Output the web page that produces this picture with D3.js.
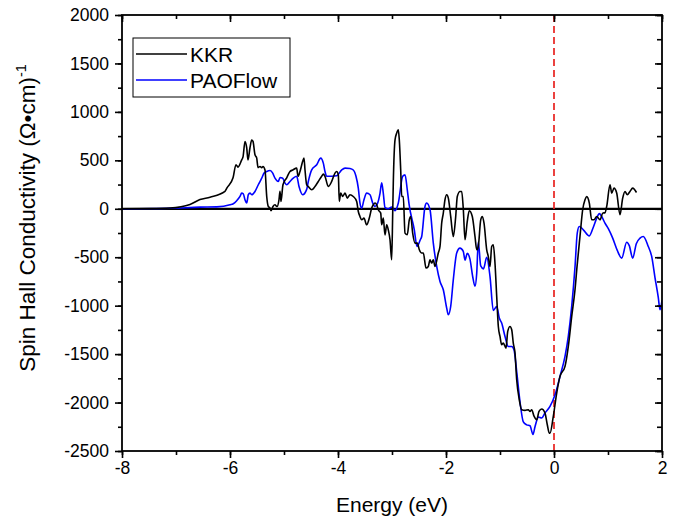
<!DOCTYPE html>
<html>
<head>
<meta charset="utf-8">
<script src="https://cdn.jsdelivr.net/npm/d3@7"></script>
<style>
  html, body { margin: 0; padding: 0; background: #fff; }
  svg { display: block; font-family: "Liberation Sans", Arial, sans-serif; }
</style>
</head>
<body>
<svg id="chart" width="682" height="521"></svg>
<script>
// ---------------- data ----------------
const seriesNames = ["KKR", "PAOFlow"];
const xTicks = [-8, -6, -4, -2, 0, 2];
const yTicks = [-2500, -2000, -1500, -1000, -500, 0, 500, 1000, 1500, 2000];

const kkrEnergy = [-8.000,-7.481,-7.111,-6.741,-6.556,-6.370,-6.093,-6.056,-5.944,-5.889,-5.852,-5.783,-5.759,-5.722,-5.691,-5.667,-5.630,-5.598,-5.574,-5.537,-5.506,-5.481,-5.444,-5.413,-5.389,-5.352,-5.320,-5.291,-5.259,-5.241,-5.204,-5.167,-5.130,-5.093,-5.074,-5.056,-5.019,-4.950,-4.889,-4.839,-4.765,-4.741,-4.704,-4.654,-4.630,-4.611,-4.580,-4.550,-4.487,-4.426,-4.365,-4.302,-4.272,-4.241,-4.180,-4.117,-4.056,-4.024,-3.994,-3.976,-3.950,-3.913,-3.870,-3.828,-3.778,-3.717,-3.654,-3.624,-3.593,-3.561,-3.519,-3.469,-3.420,-3.376,-3.346,-3.315,-3.283,-3.254,-3.209,-3.191,-3.161,-3.130,-3.098,-3.069,-3.037,-3.006,-2.987,-2.976,-2.944,-2.913,-2.883,-2.865,-2.839,-2.820,-2.791,-2.759,-2.717,-2.680,-2.654,-2.617,-2.574,-2.531,-2.494,-2.450,-2.420,-2.370,-2.328,-2.296,-2.265,-2.235,-2.204,-2.143,-2.111,-2.080,-2.050,-2.019,-1.987,-1.957,-1.913,-1.865,-1.820,-1.791,-1.741,-1.709,-1.680,-1.648,-1.606,-1.569,-1.513,-1.463,-1.431,-1.402,-1.357,-1.328,-1.296,-1.246,-1.217,-1.185,-1.154,-1.124,-1.093,-1.061,-1.031,-1.000,-0.969,-0.939,-0.889,-0.857,-0.815,-0.783,-0.754,-0.722,-0.691,-0.643,-0.598,-0.537,-0.476,-0.444,-0.413,-0.370,-0.320,-0.278,-0.228,-0.167,-0.124,-0.087,-0.074,-0.013,0.050,0.111,0.204,0.265,0.328,0.389,0.426,0.481,0.531,0.574,0.606,0.654,0.698,0.741,0.791,0.852,0.902,0.944,0.976,1.037,1.069,1.111,1.161,1.222,1.272,1.315,1.357,1.407,1.457,1.528];
const kkrValue = [0,2,8,45,95,120,180,215,320,455,430,505,535,695,630,505,630,710,695,557,525,425,437,423,437,400,127,24,7,-20,24,41,24,93,180,76,248,320,385,400,420,335,385,490,523,400,248,230,196,230,282,335,358,335,230,282,368,385,350,76,162,127,162,110,145,127,76,-28,-79,-114,-96,-165,-96,7,41,59,41,-10,-45,-165,-96,-270,-165,-217,-320,-526,-45,265,712,781,815,712,402,127,127,-251,-268,-114,-79,-251,-354,-354,-423,-457,-457,-612,-595,-526,-560,-526,-595,-457,-389,-148,-45,93,145,110,-79,-286,-79,127,179,179,0,-320,-130,-20,-79,-286,-423,-389,-114,-79,-148,-423,-492,-595,-389,-371,-560,-905,-1215,-1318,-1404,-1386,-1438,-1266,-1215,-1249,-1386,-1490,-1765,-1971,-2074,-2081,-2074,-2092,-2074,-2140,-2177,-2092,-2067,-2108,-2229,-2315,-2315,-2143,-1902,-1730,-1627,-1421,-1111,-836,-600,-286,-10,93,125,59,-114,-114,-79,-114,-45,-40,24,248,162,213,162,-62,110,179,145,179,213,168];

const paoEnergy = [-8.000,-7.111,-6.556,-6.246,-6.000,-5.939,-5.876,-5.815,-5.783,-5.754,-5.722,-5.691,-5.661,-5.630,-5.598,-5.537,-5.476,-5.413,-5.370,-5.320,-5.259,-5.209,-5.167,-5.106,-5.074,-5.024,-4.981,-4.950,-4.889,-4.828,-4.765,-4.722,-4.654,-4.580,-4.550,-4.487,-4.394,-4.320,-4.272,-4.241,-4.209,-4.117,-4.024,-3.931,-3.870,-3.778,-3.717,-3.667,-3.624,-3.593,-3.561,-3.519,-3.469,-3.407,-3.357,-3.315,-3.272,-3.222,-3.191,-3.161,-3.130,-3.069,-3.006,-2.944,-2.883,-2.802,-2.759,-2.717,-2.685,-2.587,-2.537,-2.476,-2.450,-2.389,-2.358,-2.296,-2.235,-2.172,-2.111,-2.050,-1.987,-1.957,-1.913,-1.865,-1.802,-1.741,-1.680,-1.648,-1.606,-1.556,-1.506,-1.463,-1.431,-1.402,-1.357,-1.306,-1.246,-1.185,-1.124,-1.061,-1.013,-0.969,-0.907,-0.846,-0.783,-0.741,-0.691,-0.630,-0.568,-0.506,-0.444,-0.389,-0.352,-0.290,-0.228,-0.167,-0.074,0.019,0.111,0.204,0.265,0.328,0.389,0.431,0.468,0.543,0.654,0.728,0.791,0.839,0.883,0.944,1.006,1.087,1.172,1.254,1.346,1.394,1.457,1.524,1.593,1.654,1.746,1.809,1.870,1.931,1.963,2.000];
const paoValue = [0,5,17,20,41,52,83,127,162,155,93,59,145,162,145,179,248,316,368,385,395,368,316,282,323,316,265,248,282,316,335,230,145,200,282,402,454,523,471,385,335,335,340,402,420,415,400,335,213,59,7,93,162,145,59,24,50,160,268,160,15,0,17,-20,59,335,350,196,50,-217,-389,-320,-286,24,59,-10,-354,-595,-750,-836,-1025,-1094,-1008,-733,-457,-406,-440,-530,-460,-520,-699,-800,-664,-340,-590,-620,-500,-700,-1050,-1008,-1128,-1180,-1318,-1421,-1421,-1455,-1680,-1990,-2200,-2230,-2240,-2330,-2250,-2150,-2160,-2108,-2040,-1920,-1730,-1524,-1318,-1008,-600,-250,-183,-217,-280,-190,-96,-50,-80,-148,-205,-303,-430,-509,-345,-380,-509,-360,-303,-286,-389,-492,-710,-915,-1042,-945];

const seriesColors = ["#000000", "#0000ff"];

// ---------------- layout ----------------
const W = 682, H = 521;
const m = { left: 122, right: 20, top: 15, bottom: 70 };
const iw = W - m.left - m.right, ih = H - m.top - m.bottom;

const svg = d3.select("#chart");
const g = svg.append("g").attr("transform", `translate(${m.left},${m.top})`);

const x = d3.scaleLinear().domain([-8, 2]).range([0, iw]);
const y = d3.scaleLinear().domain([-2500, 2000]).range([ih, 0]);

svg.append("defs").append("clipPath").attr("id", "clip")
  .append("rect").attr("width", iw).attr("height", ih);

// zero line
g.append("line").attr("x1", 0).attr("x2", iw).attr("y1", y(0)).attr("y2", y(0))
  .attr("stroke", "#000").attr("stroke-width", 2.2);

// Fermi level
g.append("line").attr("x1", x(0)).attr("x2", x(0)).attr("y1", 0).attr("y2", ih)
  .attr("stroke", "#e8211f").attr("stroke-width", 1.7).attr("stroke-dasharray", "7,4");

// curves
const line = d3.line().x(d => x(d[0])).y(d => y(d[1])).curve(d3.curveMonotoneX);
const kkr = kkrEnergy.map((e, i) => [e, kkrValue[i]]);
const pao = paoEnergy.map((e, i) => [e, paoValue[i]]);
const plot = g.append("g").attr("clip-path", "url(#clip)");
plot.append("path").datum(pao).attr("d", line).attr("fill", "none")
  .attr("stroke", seriesColors[1]).attr("stroke-width", 1.6);
plot.append("path").datum(kkr).attr("d", line).attr("fill", "none")
  .attr("stroke", seriesColors[0]).attr("stroke-width", 1.6);

// axes
const fs = 17.5;
const fmt = d => String(d); // plain hyphen-minus like the reference
const xMinor = d3.range(-8, 2.01, 1);
const yMinor = d3.range(-2500, 2001, 250);

function styleAxis(sel) {
  sel.select(".domain").remove();
  sel.selectAll("line").attr("stroke", "#000").attr("stroke-width", 1.6);
  sel.selectAll("text").attr("font-size", fs).attr("fill", "#000");
}
// bottom
g.append("g").attr("transform", `translate(0,${ih})`)
  .call(d3.axisBottom(x).tickValues(xMinor).tickSize(4).tickFormat(""))
  .call(styleAxis);
g.append("g").attr("transform", `translate(0,${ih})`)
  .call(d3.axisBottom(x).tickValues(xTicks).tickSize(7).tickPadding(4).tickFormat(fmt))
  .call(styleAxis);
// top (inward)
g.append("g").call(d3.axisTop(x).tickValues(xMinor).tickSize(-4).tickFormat("")).call(styleAxis);
g.append("g").call(d3.axisTop(x).tickValues(xTicks).tickSize(-7).tickFormat("")).call(styleAxis);
// left
g.append("g").call(d3.axisLeft(y).tickValues(yMinor).tickSize(4).tickFormat("")).call(styleAxis);
g.append("g").call(d3.axisLeft(y).tickValues(yTicks).tickSize(7).tickPadding(6).tickFormat(fmt))
  .call(styleAxis);
// right (inward)
g.append("g").attr("transform", `translate(${iw},0)`)
  .call(d3.axisRight(y).tickValues(yMinor).tickSize(-5).tickFormat("")).call(styleAxis);
g.append("g").attr("transform", `translate(${iw},0)`)
  .call(d3.axisRight(y).tickValues(yTicks).tickSize(-7).tickFormat("")).call(styleAxis);

// frame
g.append("rect").attr("width", iw).attr("height", ih).attr("fill", "none")
  .attr("stroke", "#000").attr("stroke-width", 1.8);

// axis titles
svg.append("text").attr("x", m.left + iw / 2).attr("y", 512).attr("text-anchor", "middle")
  .attr("font-size", 21).text("Energy (eV)");
const yt = svg.append("text").attr("transform", `translate(35,218) rotate(-90)`)
  .attr("text-anchor", "middle").attr("font-size", 22.5);
yt.append("tspan").text("Spin Hall Conductivity (Ω•cm)");
yt.append("tspan").attr("font-size", 14.5).attr("dy", -9).text("-1");

// legend
const lg = svg.append("g");
lg.append("rect").attr("x", 133).attr("y", 38).attr("width", 157).attr("height", 59)
  .attr("fill", "#fff").attr("stroke", "#000").attr("stroke-width", 1);
seriesNames.forEach((n, i) => {
  const yy = 54 + i * 26;
  lg.append("line").attr("x1", 136).attr("x2", 187).attr("y1", yy).attr("y2", yy)
    .attr("stroke", seriesColors[i]).attr("stroke-width", 1.5);
  lg.append("text").attr("x", 190).attr("y", yy + 7.5).attr("font-size", 21).text(n);
});
</script>
</body>
</html>
